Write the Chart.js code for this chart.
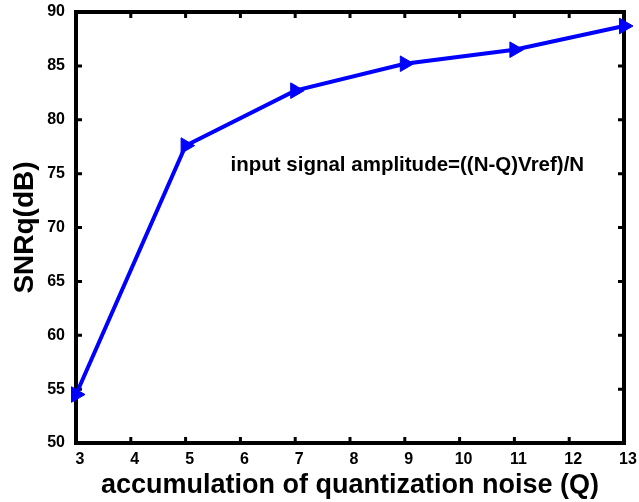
<!DOCTYPE html>
<html>
<head>
<meta charset="utf-8">
<script src="https://cdn.jsdelivr.net/npm/chart.js@4.4.0/dist/chart.umd.min.js"></script>
<style>
  html, body { margin: 0; padding: 0; background: #fff; }
  #wrap { width: 639px; height: 502px; }
</style>
</head>
<body>
<div id="wrap"><canvas id="mycanvas" width="639" height="502"></canvas></div>
<script>
// values
var qValues = [3, 5, 7, 9, 11, 13];
var snrq = [54.5, 77.6, 82.7, 85.2, 86.5, 88.7];

var xTicks = [3, 4, 5, 6, 7, 8, 9, 10, 11, 12, 13];
var yTicks = [50, 55, 60, 65, 70, 75, 80, 85, 90];

var xTitle = "accumulation of quantization noise (Q)";
var yTitle = "SNRq(dB)";
var noteText = "input signal amplitude=((N-Q)Vref)/N";
var noteAt = [5.82, 75.2];

var points = [];
for (var i in qValues) {
    points.push({x: qValues[i], y: snrq[i]});
}

var fontFam = "'Liberation Sans', Arial, sans-serif";

// box around the plot with inward ticks, plus the text note
var framePlugin = {
    id: 'frame',
    beforeDatasetsDraw: function(chart) {
        var ctx = chart.ctx;
        var a = chart.chartArea;
        var xs = chart.scales.x, ys = chart.scales.y;
        ctx.save();
        ctx.strokeStyle = '#000';
        ctx.lineWidth = 4;
        ctx.strokeRect(a.left, a.top, a.right - a.left, a.bottom - a.top);
        ctx.lineWidth = 3;
        ctx.beginPath();
        xTicks.forEach(function(v) {
            var px = xs.getPixelForValue(v);
            ctx.moveTo(px, a.bottom); ctx.lineTo(px, a.bottom - 6);
            ctx.moveTo(px, a.top); ctx.lineTo(px, a.top + 6);
        });
        yTicks.forEach(function(v) {
            var py = ys.getPixelForValue(v);
            ctx.moveTo(a.left, py); ctx.lineTo(a.left + 6, py);
            ctx.moveTo(a.right, py); ctx.lineTo(a.right - 6, py);
        });
        ctx.stroke();
        ctx.restore();
    },
    afterDraw: function(chart) {
        var ctx = chart.ctx;
        ctx.save();
        ctx.fillStyle = '#000';
        ctx.font = "bold 20.5px " + fontFam;
        ctx.textBaseline = 'alphabetic';
        ctx.fillText(noteText, chart.scales.x.getPixelForValue(noteAt[0]), chart.scales.y.getPixelForValue(noteAt[1]));
        ctx.restore();
    }
};

var ctx = document.getElementById('mycanvas');

var LineGraph = new Chart(ctx, {
    type: 'line',
    data: {
        datasets: [{
            data: points,
            borderColor: '#0000ff',
            backgroundColor: '#0000ff',
            borderWidth: 4,
            pointStyle: 'triangle',
            rotation: 90,
            pointRadius: 9,
            pointBorderWidth: 1,
            pointHoverRadius: 9,
            tension: 0,
            clip: false
        }]
    },
    options: {
        responsive: false,
        animation: false,
        events: [],
        layout: { padding: { left: 0, top: 12, right: 15, bottom: 0 } },
        plugins: { legend: { display: false }, tooltip: { enabled: false } },
        scales: {
            x: {
                type: 'linear',
                min: 3, max: 13,
                afterBuildTicks: function(scale) {
                    scale.ticks = xTicks.map(function(v) { return {value: v}; });
                },
                afterFit: function(scale) {
                    scale.height = 59;
                    scale.paddingLeft = 0; scale.paddingRight = 0;
                },
                grid: { display: false, drawTicks: false },
                border: { display: false },
                ticks: {
                    color: '#000', padding: 7, labelOffset: 4, maxRotation: 0,
                    font: { family: fontFam, size: 16, weight: 'bold' }
                },
                title: {
                    display: true, text: xTitle, color: '#000',
                    padding: { top: 0, bottom: 0 },
                    font: { family: fontFam, size: 27, weight: 'bold' }
                }
            },
            y: {
                min: 50, max: 90,
                afterBuildTicks: function(scale) {
                    scale.ticks = yTicks.map(function(v) { return {value: v}; });
                },
                afterFit: function(scale) {
                    scale.width = 76;
                    scale.paddingTop = 0; scale.paddingBottom = 0;
                },
                grid: { display: false, drawTicks: false },
                border: { display: false },
                ticks: {
                    color: '#000', padding: 11,
                    font: { family: fontFam, size: 16, weight: 'bold' }
                },
                title: {
                    display: true, text: yTitle, color: '#000',
                    padding: { top: 8, bottom: 0 },
                    font: { family: fontFam, size: 28, weight: 'bold' }
                }
            }
        }
    },
    plugins: [framePlugin]
});
</script>
</body>
</html>
